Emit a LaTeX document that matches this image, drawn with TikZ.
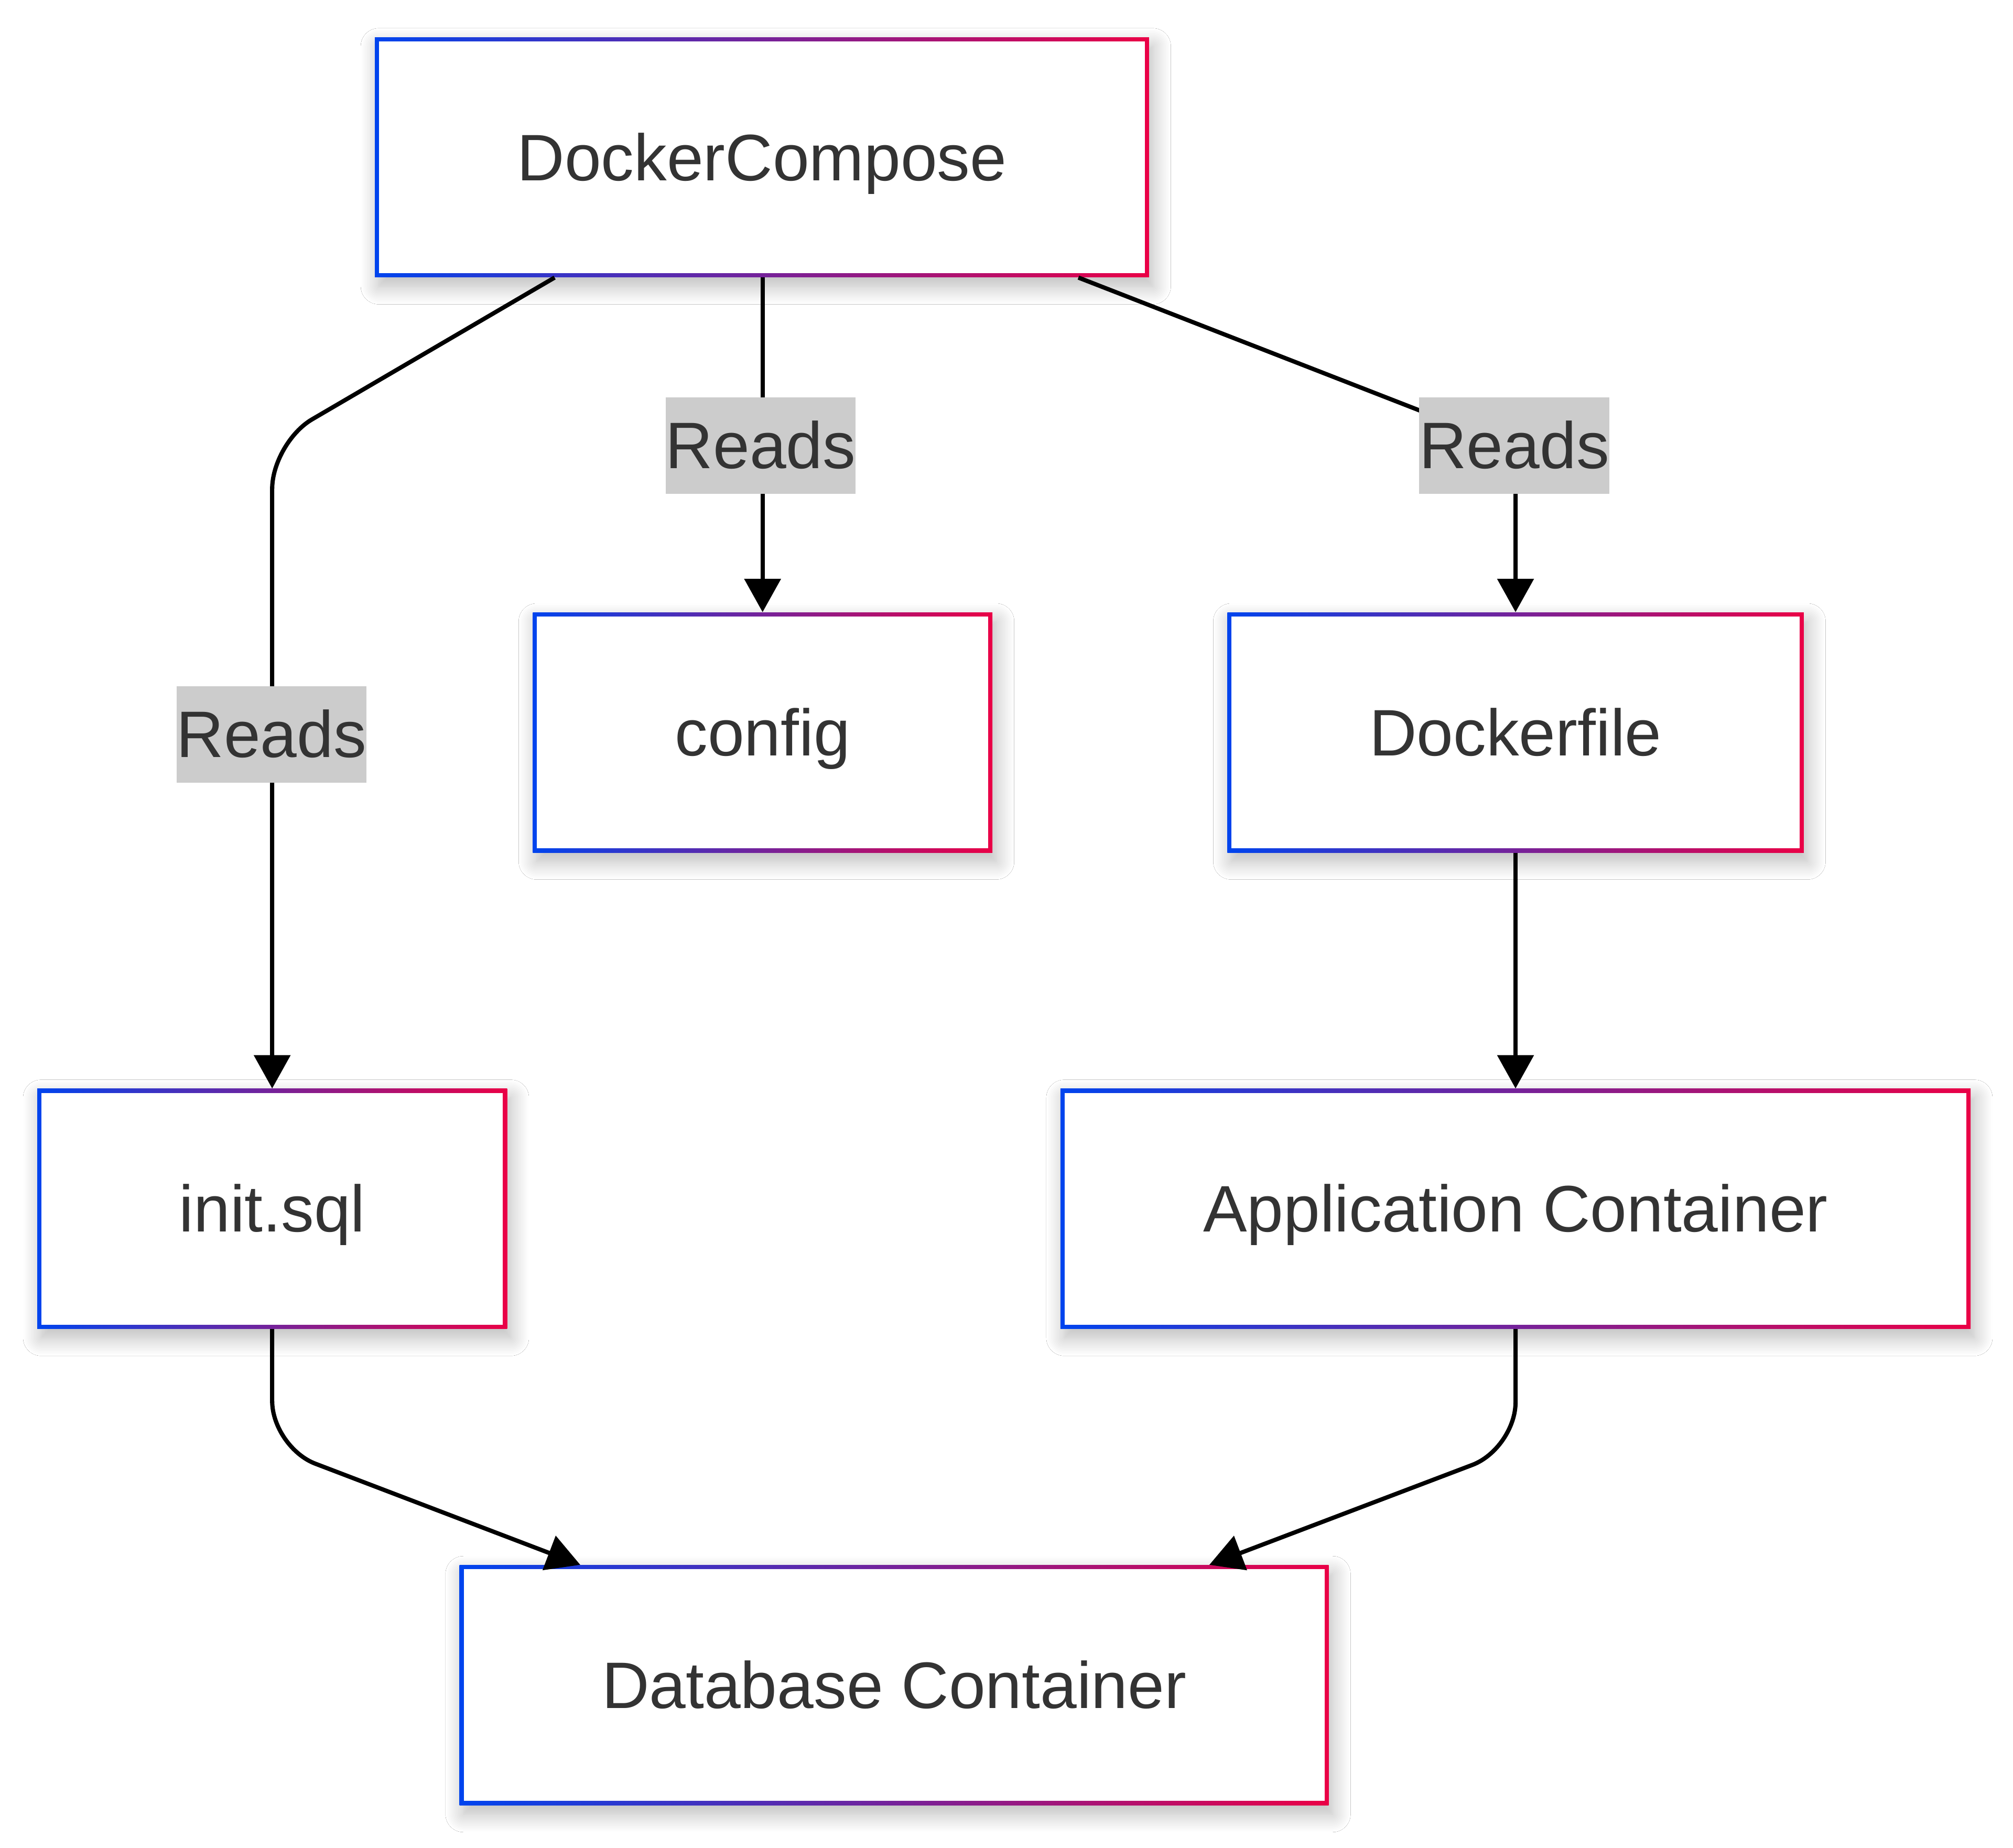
\documentclass[tikz,border=0pt]{standalone}
\usepackage{fontspec}
\setmainfont{Liberation Sans}
\usetikzlibrary{arrows.meta,shadows.blur}
\definecolor{gblue}{HTML}{0044EE}
\definecolor{gred}{HTML}{EA0046}
\definecolor{txt}{HTML}{333333}
\definecolor{lblbg}{HTML}{CCCCCC}
\tikzset{
  gbox/.style={rectangle, inner sep=0pt, minimum height=187pt, text=txt,
    font=\fontsize{51.2}{61}\selectfont, text height=48pt, text depth=12pt, fill=white,
    blur shadow={shadow xshift=3pt, shadow yshift=-7pt, shadow blur radius=14pt, shadow opacity=28, shadow blur steps=12},
    path picture={
      \shade[left color=gblue, right color=gred] (path picture bounding box.south west) rectangle (path picture bounding box.north east);
      \fill[white] ([shift={(3.3pt,3.3pt)}]path picture bounding box.south west) rectangle ([shift={(-3.3pt,-3.3pt)}]path picture bounding box.north east);
    }},
  lbl/.style={fill=lblbg, text=txt, inner sep=0pt, minimum width=147pt, minimum height=75pt,
    font=\fontsize{51.2}{61}\selectfont, text height=48pt, text depth=12pt},
  edge/.style={draw=black, line width=3.3pt, rounded corners=36pt, -{Triangle[width=28pt,length=26pt]}},
}
\begin{document}
\begin{tikzpicture}[x=1pt,y=-1pt]
\fill[white] (0,0) rectangle (1568,1439);
\useasboundingbox (0,0) rectangle (1568,1439);

\node[gbox, minimum width=603pt] (dc) at (593.5,122.5) {DockerCompose};
\node[gbox, minimum width=358pt] (cfg) at (594,570.5) {config};
\node[gbox, minimum width=449pt] (df) at (1180.5,570.5) {Dockerfile};
\node[gbox, minimum width=366pt] (init) at (212,941.5) {init.sql};
\node[gbox, minimum width=709pt] (app) at (1180.5,941.5) {Application Container};
\node[gbox, minimum width=677pt] (db) at (696.5,1312.5) {Database Container};

\draw[edge] ([xshift=-161.5pt]dc.south) -- ([yshift=503pt]init.north) -- (init.north);
\draw[edge] (cfg.north |- dc.south) -- (cfg.north);
\draw[edge] ([xshift=246.5pt]dc.south) -- ([yshift=128pt]df.north) -- (df.north);
\draw[edge] (df.south) -- (app.north);
\draw[edge] (init.south) -- ([yshift=-92pt]init.south) -- ([xshift=-244.5pt]db.north);
\draw[edge] (app.south) -- ([yshift=-93pt]app.south) -- ([xshift=245.5pt]db.north);

\node[lbl] (l1) at (211.5,572) {Reads};
\node[lbl] (l2) at (592.5,347) {Reads};
\node[lbl] (l3) at (1179.5,347) {Reads};
\end{tikzpicture}
\end{document}
